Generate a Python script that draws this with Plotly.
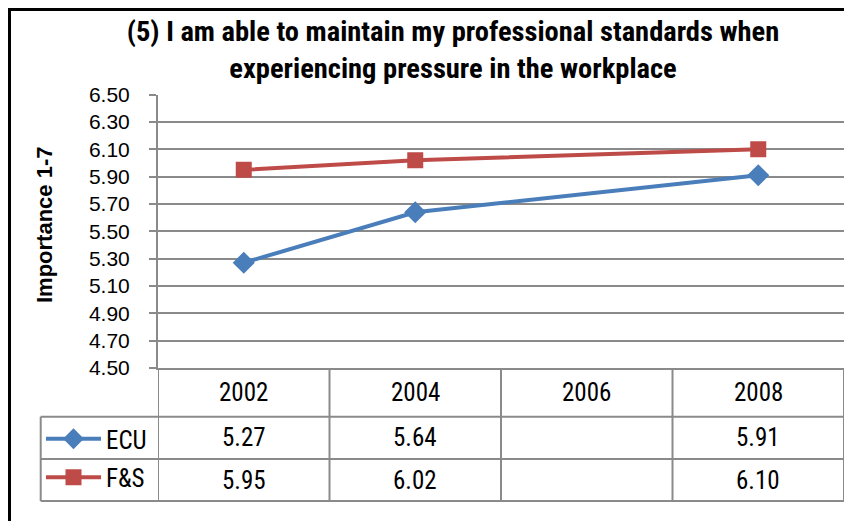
import plotly.graph_objects as go

years = ["2002", "2004", "2006", "2008"]
ecu = [5.27, 5.64, None, 5.91]
fs = [5.95, 6.02, None, 6.10]
series_names = ["ECU", "F&S"]
title_text = "(5) I am able to maintain my professional standards when<br>experiencing pressure in the workplace"
y_title = "Importance 1-7"
y_ticks = [4.50, 4.70, 4.90, 5.10, 5.30, 5.50, 5.70, 5.90, 6.10, 6.30, 6.50]

# The page body has an 8px margin: figure pixel = screen pixel - 8
OFF = 8
FW, FH = 844, 513
FONT = "Liberation Sans, Arial, sans-serif"
NARROW = "Roboto Condensed, Liberation Sans, Arial, sans-serif"
GRID = "#8a8a8a"
BLUE = "#4a7ebb"
RED = "#be4b48"


def px_x(sx):
    return (sx - OFF) / FW


def px_y(sy):
    return 1 - (sy - OFF) / FH


# screen-pixel anchors of the reference layout
PL, PR, PT, PB = 158, 844, 94.7, 368
ROW1, ROW2, ROW3 = 416.7, 459, 501
LEG_L = 40.7

fig = go.Figure()
fig.add_trace(go.Scatter(
    x=years, y=ecu, name=series_names[0], mode="lines+markers", connectgaps=True,
    line=dict(color=BLUE, width=4), marker=dict(symbol="diamond", size=17, color=BLUE),
    legendgroup="a",
))
fig.add_trace(go.Scatter(
    x=years, y=fs, name=series_names[1], mode="lines+markers", connectgaps=True,
    line=dict(color=RED, width=4), marker=dict(symbol="square", size=16, color=RED),
    legendgroup="b",
))

n = len(years)
shapes = []
# black frame (left and top)
shapes.append(dict(type="line", xref="paper", yref="paper", x0=px_x(9.5), x1=px_x(9.5),
                   y0=px_y(8), y1=-0.05, line=dict(color="black", width=3)))
shapes.append(dict(type="line", xref="paper", yref="paper", x0=px_x(8), x1=1.05,
                   y0=px_y(9.5), y1=px_y(9.5), line=dict(color="black", width=3)))
# data-table vertical separators at category boundaries
for i in range(n + 1):
    shapes.append(dict(type="line", xref="x", yref="paper", x0=i - 0.5, x1=i - 0.5,
                       y0=px_y(PB), y1=px_y(ROW3), line=dict(color=GRID, width=2)))
# legend column left edge
shapes.append(dict(type="line", xref="paper", yref="paper", x0=px_x(LEG_L), x1=px_x(LEG_L),
                   y0=px_y(ROW1), y1=px_y(ROW3), line=dict(color=GRID, width=2)))
# horizontal table lines
for yy in (ROW1, ROW2, ROW3):
    shapes.append(dict(type="line", xref="paper", yref="paper", x0=px_x(LEG_L), x1=px_x(PR),
                       y0=px_y(yy), y1=px_y(yy), line=dict(color=GRID, width=2)))

annotations = []
TF = dict(family=NARROW, size=25, color="black")
for i, yr in enumerate(years):
    annotations.append(dict(x=i, y=px_y((PB + ROW1) / 2), xref="x", yref="paper",
                            text=yr, showarrow=False, font=TF, yanchor="middle"))
for vals, (r0, r1) in ((ecu, (ROW1, ROW2)), (fs, (ROW2, ROW3))):
    for i, v in enumerate(vals):
        if v is None:
            continue
        annotations.append(dict(x=i, y=px_y((r0 + r1) / 2), xref="x", yref="paper",
                                text=f"{v:.2f}", showarrow=False, font=TF, yanchor="middle"))
# y-axis title
annotations.append(dict(x=px_x(44), y=px_y(225), xref="paper", yref="paper", text=y_title,
                        textangle=-90, showarrow=False, xanchor="center", yanchor="middle",
                        font=dict(family=FONT, size=22, color="black", weight="bold")))

fig.update_layout(
    width=FW, height=FH,
    margin=dict(l=0, r=0, t=0, b=0, autoexpand=False),
    paper_bgcolor="white", plot_bgcolor="white",
    font=dict(family=FONT, size=21, color="black"),
    title=dict(text=title_text, x=px_x(453), xanchor="center", xref="paper",
               y=px_y(41), yanchor="middle", yref="paper",
               font=dict(family=NARROW, size=28.5, color="black", weight="bold")),
    xaxis=dict(domain=[px_x(PL), px_x(PR)], type="category", range=[-0.5, n - 0.5],
               showticklabels=False, ticks="", showgrid=False, zeroline=False,
               showline=True, linecolor=GRID, linewidth=2, automargin=False),
    yaxis=dict(domain=[px_y(PB), px_y(PT)], range=[4.5, 6.5], tickvals=y_ticks,
               tickformat=".2f", ticks="outside", ticklen=7, tickcolor=GRID, tickwidth=2,
               ticklabelstandoff=15,
               showgrid=True, gridcolor=GRID, gridwidth=2, zeroline=False,
               showline=True, linecolor=GRID, linewidth=2, automargin=False,
               tickfont=dict(family=FONT, size=21, color="black")),
    showlegend=True,
    legend=dict(x=px_x(41), y=px_y(416), xanchor="left", yanchor="top",
                bgcolor="rgba(0,0,0,0)", font=dict(family=NARROW, size=25, color="black"),
                itemwidth=55, tracegroupgap=3, traceorder="grouped"),
    shapes=shapes,
    annotations=annotations,
)

fig.write_html("out.html")
